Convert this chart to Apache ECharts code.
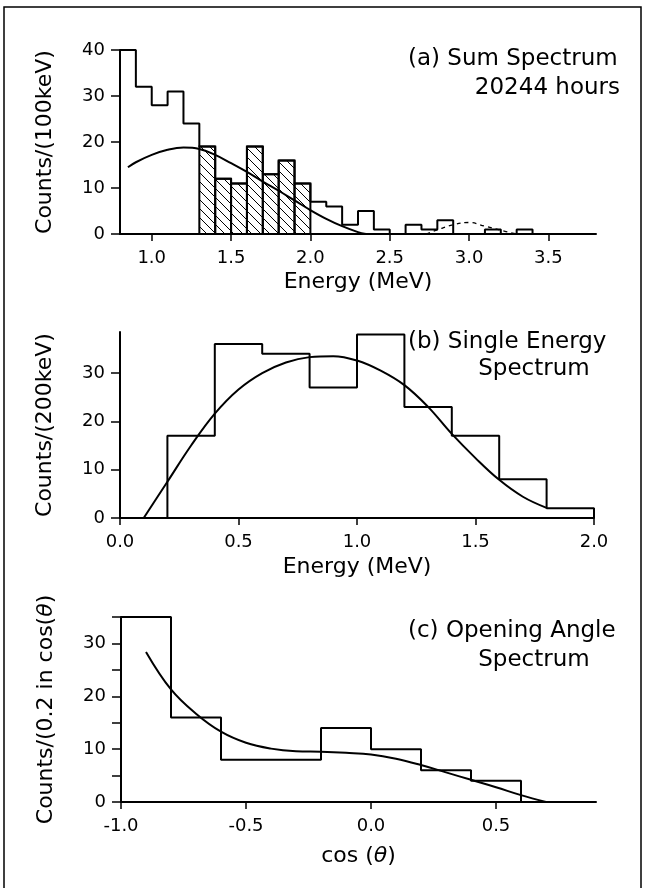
<!DOCTYPE html>
<html>
<head>
<meta charset="utf-8">
<title>Sum / single energy / opening angle spectra</title>
<script src="https://cdn.jsdelivr.net/npm/echarts@6/dist/echarts.min.js"></script>
<style>
    html, body { margin: 0; padding: 0; background: #fff; }
    #chart { width: 646px; height: 888px; }
</style>
</head>
<body>
<div id="chart"></div>
<script type="text/javascript">
    // (a) sum spectrum, 100 keV bins
    var sumEdges = [0.8, 0.9, 1.0, 1.1, 1.2, 1.3, 1.4, 1.5, 1.6, 1.7, 1.8, 1.9, 2.0, 2.1,
                    2.2, 2.3, 2.4, 2.5, 2.6, 2.7, 2.8, 2.9, 3.0, 3.1, 3.2, 3.3, 3.4];
    var sumCounts = [40, 32, 28, 31, 24, 19, 12, 11, 19, 13, 16, 11, 7, 6,
                     2, 5, 1, 0, 2, 1, 3, 0, 0, 1, 0, 1];
    var sumHatchFrom = 1.3, sumHatchTo = 2.0;
    var sumFitE = [0.85, 0.9, 1.0, 1.1, 1.2, 1.3, 1.4, 1.5, 1.6, 1.7, 1.8, 1.9, 2.0, 2.1, 2.2, 2.3, 2.35];
    var sumFitN = [14.5, 15.6, 17.2, 18.3, 18.8, 18.5, 17.2, 15.4, 13.5, 11.4, 9.4, 7.3, 5.2, 3.3, 1.7, 0.4, 0];
    var sumBgE = [2.73, 2.8, 2.9, 3.0, 3.1, 3.2, 3.3];
    var sumBgN = [0, 0.9, 2.0, 2.5, 1.7, 0.8, 0];
    var sumTicks = [1.0, 1.5, 2.0, 2.5, 3.0, 3.5];
    var sumYTicks = [0, 10, 20, 30, 40];

    // (b) single energy spectrum, 200 keV bins
    var singleEdges = [0.0, 0.2, 0.4, 0.6, 0.8, 1.0, 1.2, 1.4, 1.6, 1.8, 2.0];
    var singleCounts = [0, 17, 36, 34, 27, 38, 23, 17, 8, 2];
    var singleFitE = [0.1, 0.2, 0.3, 0.4, 0.5, 0.6, 0.7, 0.8, 0.9,
                      1.0, 1.1, 1.2, 1.3, 1.4, 1.5, 1.6, 1.7, 1.8];
    var singleFitN = [0, 7.5, 15, 21.6, 26.6, 30.0, 32.2, 33.3, 33.5,
                      32.6, 30.5, 27.5, 23, 17.4, 12.4, 7.9, 4.4, 2.1];
    var singleTicks = [0.0, 0.5, 1.0, 1.5, 2.0];
    var singleYTicks = [0, 10, 20, 30];

    // (c) opening angle spectrum, 0.2 bins in cos(theta)
    var angleEdges = [-1.0, -0.8, -0.6, -0.4, -0.2, 0.0, 0.2, 0.4, 0.6];
    var angleCounts = [35, 16, 8, 8, 14, 10, 6, 4];
    var angleFitC = [-0.9, -0.8, -0.7, -0.6, -0.5, -0.4, -0.3, -0.2, -0.1, 0.0, 0.1, 0.2, 0.3, 0.4, 0.5, 0.6, 0.7];
    var angleFitN = [28.4, 21.3, 16.7, 13.3, 11.2, 10.1, 9.6, 9.5, 9.3, 9.0, 8.2, 7.0, 5.6, 4.2, 2.8, 1.3, 0];
    var angleTicks = [-1.0, -0.5, 0.0, 0.5];
    var angleYTicks = [0, 5, 10, 15, 20, 25, 30, 35];
    var angleYLabels = [0, 10, 20, 30];

    var FONT = 'DejaVu Sans';

    function stepData(edges, counts) {
        var d = [];
        for (var i = 0; i < counts.length; i++) {
            d.push([edges[i], counts[i]]);
        }
        d.push([edges[counts.length], 0]);
        return d;
    }
    function pairs(xs, ys) {
        return xs.map(function (x, i) { return [x, ys[i]]; });
    }
    var hatchData = [];
    for (var i = 0; i < sumCounts.length; i++) {
        if (sumEdges[i] >= sumHatchFrom - 1e-9 && sumEdges[i + 1] <= sumHatchTo + 1e-9) {
            hatchData.push([sumEdges[i], sumEdges[i + 1], sumCounts[i]]);
        }
    }

    // hatched box: diagonal "\" lines clipped to the bin rectangle
    function renderHatch(params, api) {
        var lo = api.coord([api.value(0), 0]);
        var hi = api.coord([api.value(1), api.value(2)]);
        var xl = lo[0], xr = hi[0], yt = hi[1], yb = lo[1];
        var gap = 9;
        var children = [];
        var c0 = Math.floor((yt - xr) / gap) * gap;
        for (var c = c0; c <= yb - xl; c += gap) {
            var xa = Math.max(xl, yt - c), xb = Math.min(xr, yb - c);
            if (xb - xa > 0.5) {
                children.push({
                    type: 'line',
                    shape: { x1: xa, y1: xa + c, x2: xb, y2: xb + c },
                    style: { stroke: '#000', lineWidth: 1 }
                });
            }
        }
        children.push({
            type: 'rect',
            shape: { x: xl, y: yt, width: xr - xl, height: yb - yt },
            style: { fill: 'none', stroke: '#000', lineWidth: 2 }
        });
        return { type: 'group', children: children };
    }

    function xAxisOf(idx, min, max, ticks, name, gap) {
        return {
            type: 'value', gridIndex: idx, min: min, max: max,
            name: name, nameLocation: 'middle', nameGap: gap,
            nameTextStyle: { fontFamily: FONT, fontSize: 22, color: '#000',
                rich: { it: { fontFamily: FONT, fontSize: 22, fontStyle: 'italic', color: '#000' } } },
            axisLine: { show: true, onZero: false, lineStyle: { color: '#000', width: 2 } },
            axisTick: { show: true, inside: false, length: 7, customValues: ticks,
                lineStyle: { color: '#000', width: 1.5 } },
            axisLabel: { customValues: ticks, margin: 15, fontFamily: FONT, fontSize: 18, color: '#000',
                formatter: function (v) { return v.toFixed(1); } },
            splitLine: { show: false }
        };
    }
    function yAxisOf(idx, max, ticks, labels, name) {
        return {
            type: 'value', gridIndex: idx, min: 0, max: max,
            name: name, nameLocation: 'middle', nameGap: 64,
            nameTextStyle: { fontFamily: FONT, fontSize: 22, color: '#000',
                rich: { it: { fontFamily: FONT, fontSize: 22, fontStyle: 'italic', color: '#000' } } },
            axisLine: { show: true, onZero: false, lineStyle: { color: '#000', width: 2 } },
            axisTick: { show: true, inside: false, length: 9, customValues: ticks,
                lineStyle: { color: '#000', width: 1.5 } },
            axisLabel: { customValues: labels, margin: 15, fontFamily: FONT, fontSize: 18, color: '#000' },
            splitLine: { show: false }
        };
    }
    function histLine(idx, data) {
        return {
            type: 'line', xAxisIndex: idx, yAxisIndex: idx, step: 'end', data: data,
            symbol: 'none', lineStyle: { color: '#000', width: 2 }, z: 3
        };
    }
    function fitLine(idx, data, dashed) {
        return {
            type: 'line', xAxisIndex: idx, yAxisIndex: idx, smooth: 0.4, data: data,
            symbol: 'none', z: 4,
            lineStyle: { color: '#000', width: dashed ? 1.3 : 2, type: dashed ? [4, 4] : 'solid' }
        };
    }
    function label(x, y, text, align) {
        return {
            type: 'text', x: x, y: y,
            style: { text: text, fill: '#000', font: '23px "' + FONT + '"',
                textAlign: align || 'left', textVerticalAlign: 'middle' }
        };
    }

    var myChart = echarts.init(document.getElementById('chart'), null, { renderer: 'canvas' });
    var option = {
        backgroundColor: '#fff',
        animation: false,
        grid: [
            { left: 120, top: 50, width: 476, height: 184 },
            { left: 120, top: 332, width: 474, height: 186 },
            { left: 121, top: 617, width: 475, height: 185 }
        ],
        xAxis: [
            xAxisOf(0, 0.8, 3.8, sumTicks, 'Energy (MeV)', 37),
            xAxisOf(1, 0, 2.0, singleTicks, 'Energy (MeV)', 38),
            xAxisOf(2, -1.0, 0.9, angleTicks, 'cos ({it|θ})', 43)
        ],
        yAxis: [
            yAxisOf(0, 40, sumYTicks, sumYTicks, 'Counts/(100keV)'),
            yAxisOf(1, 38.5, singleYTicks, singleYTicks, 'Counts/(200keV)'),
            yAxisOf(2, 35, angleYTicks, angleYLabels, 'Counts/(0.2 in cos({it|θ})')
        ],
        graphic: [
            { type: 'rect', shape: { x: 4, y: 7, width: 637, height: 900 },
              style: { fill: 'none', stroke: '#000', lineWidth: 1.5 } },
            label(408, 59, '(a) Sum Spectrum'),
            label(620, 88, '20244 hours', 'right'),
            label(408, 342, '(b) Single Energy'),
            label(534, 369, 'Spectrum', 'center'),
            label(408, 631, '(c) Opening Angle'),
            label(534, 660, 'Spectrum', 'center')
        ],
        series: [
            {
                type: 'custom', xAxisIndex: 0, yAxisIndex: 0, renderItem: renderHatch,
                data: hatchData, encode: { x: [0, 1], y: 2 }, z: 2
            },
            histLine(0, stepData(sumEdges, sumCounts)),
            fitLine(0, pairs(sumFitE, sumFitN), false),
            fitLine(0, pairs(sumBgE, sumBgN), true),
            histLine(1, stepData(singleEdges, singleCounts)),
            fitLine(1, pairs(singleFitE, singleFitN), false),
            histLine(2, stepData(angleEdges, angleCounts)),
            fitLine(2, pairs(angleFitC, angleFitN), false)
        ]
    };
    myChart.setOption(option);
</script>
</body>
</html>
